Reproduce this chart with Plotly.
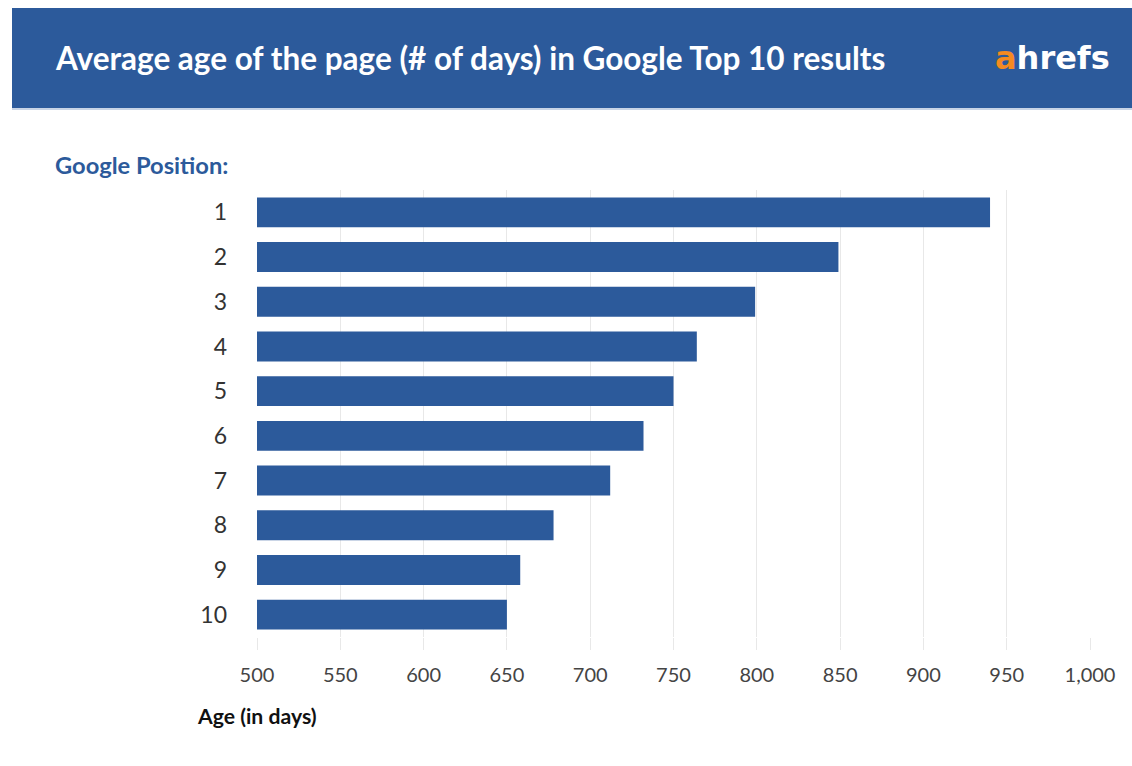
import plotly.graph_objects as go

positions = ["1", "2", "3", "4", "5", "6", "7", "8", "9", "10"]
age_days = [940, 849, 799, 764, 750, 732, 712, 678, 658, 650]
x_ticks = [500, 550, 600, 650, 700, 750, 800, 850, 900, 950, 1000]
BASE = 500

W, H = 1132, 766
L, R, T, B = 257, 42, 190, 129
PW, PH = W - L - R, H - T - B

def px(x):
    return (x - L) / PW

def py(y):
    return (H - B - y) / PH

BLUE = "#2c5a9b"
fig = go.Figure(go.Bar(
    x=[v - BASE for v in age_days], y=positions, orientation="h",
    base=BASE,
    marker=dict(color=BLUE, line=dict(width=0)),
    customdata=age_days, hovertemplate="Position %{y}: %{customdata} days<extra></extra>",
))

fig.update_layout(
    width=W, height=H,
    margin=dict(l=L, r=R, t=T, b=B, pad=0),
    paper_bgcolor="white", plot_bgcolor="white",
    bargap=0.33,
    showlegend=False,
    font=dict(family="Lato, 'Open Sans', sans-serif", color="#333"),
    xaxis=dict(
        range=[500, 1000], tickvals=x_ticks, tickformat=",",
        showgrid=True, gridcolor="#e8e8e8", gridwidth=1,
        zeroline=False, showline=False,
        ticks="outside", ticklen=12, tickcolor="#e8e8e8",
        ticklabelstandoff=8,
        tickfont=dict(size=20, color="#444"),
    ),
    yaxis=dict(
        type="category", autorange="reversed",
        showgrid=False, zeroline=False, showline=False,
        ticks="", ticklabelstandoff=29,
        tickfont=dict(size=23, color="#333"),
    ),
    shapes=[
        dict(type="rect", xref="paper", yref="paper",
             x0=px(12), x1=px(1132), y0=py(108), y1=py(8),
             fillcolor=BLUE, line=dict(width=0), layer="below"),
        dict(type="line", xref="paper", yref="paper",
             x0=px(12), x1=px(1132), y0=py(109), y1=py(109),
             line=dict(color="#c8d4e6", width=2)),
    ],
    annotations=[
        dict(text="<b>Average age of the page (# of days) in Google Top 10 results</b>",
             xref="paper", yref="paper", x=px(53), y=py(58),
             xanchor="left", yanchor="middle", showarrow=False,
             font=dict(size=31.5, color="white", family="Lato, sans-serif")),
        dict(text="<b><span style='color:#f48a21'>a</span>hrefs</b>",
             xref="paper", yref="paper", x=px(1112), y=py(58),
             xanchor="right", yanchor="middle", showarrow=False,
             font=dict(size=32, color="white", family="'DejaVu Sans', sans-serif")),
        dict(text="<b>Google Position:</b>",
             xref="paper", yref="paper", x=px(53), y=py(165),
             xanchor="left", yanchor="middle", showarrow=False,
             font=dict(size=23.7, color=BLUE, family="Lato, sans-serif")),
        dict(text="<b>Age (in days)</b>",
             xref="paper", yref="paper", x=px(195), y=py(716),
             xanchor="left", yanchor="middle", showarrow=False,
             font=dict(size=21.2, color="#111", family="Lato, sans-serif")),
    ],
)

fig.write_html("out.html")
